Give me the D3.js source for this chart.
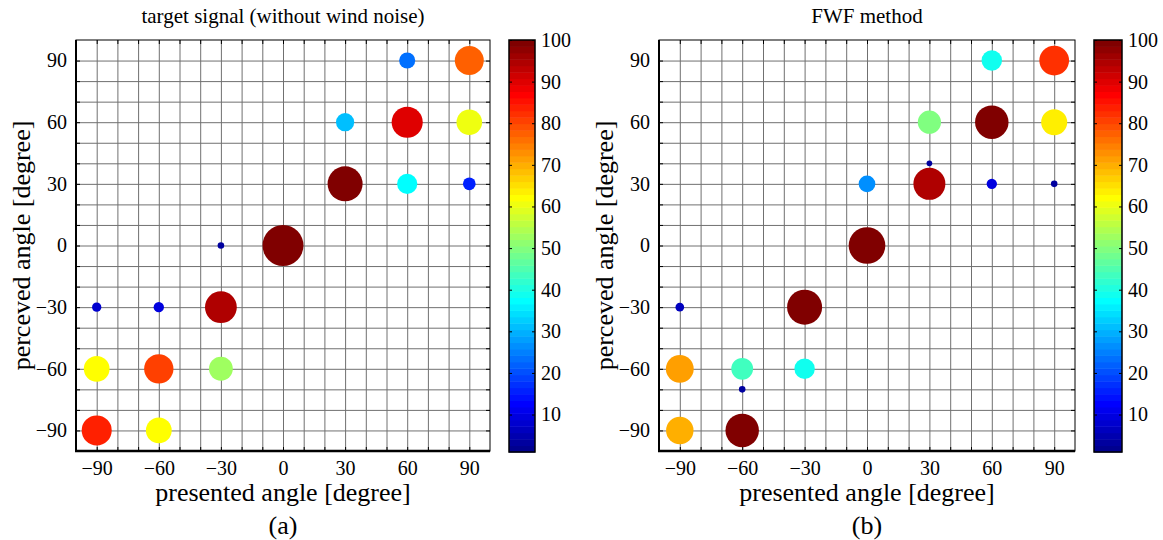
<!DOCTYPE html>
<html>
<head>
<meta charset="utf-8">
<script src="https://cdn.jsdelivr.net/npm/d3@7"></script>
<style>
  body { margin: 0; background: #fff; }
  svg text { font-family: "Liberation Serif", "Times New Roman", serif !important; fill: #000; }
  .grid line { stroke: #707070; stroke-width: 1; }
  .grid path { display: none; }
  .ax path { display: none; }
  .ax line { stroke: #000; }
</style>
</head>
<body>
<div id="chart"></div>
<script>
// angles (degree) and response values
const targetPresented = [90, 60, 30, 60, 90, 30, 60, 90, 0, -30, -90, -60, -30, -90, -60, -30, -90, -60];
const targetPerceived = [90, 90, 60, 60, 60, 30, 30, 30, 0, 0, -30, -30, -30, -60, -60, -60, -90, -90];
const targetValue     = [78, 24, 31, 90, 61, 114, 38, 15, 156, 4, 8, 10, 94, 62, 80, 53, 84, 62];

const fwfPresented = [90, 60, 30, 60, 90, 30, 0, 30, 60, 90, 0, -30, -90, -90, -60, -30, -60, -90, -60];
const fwfPerceived = [90, 90, 60, 60, 60, 40, 30, 30, 30, 30, 0, -30, -30, -60, -60, -60, -70, -90, -90];
const fwfValue     = [82, 39, 50, 104, 63, 3, 26, 95, 10, 4, 125, 114, 7, 72, 44, 39, 4, 70, 104];

const angleTicks = [-90, -60, -30, 0, 30, 60, 90];
const colorTicks = [10, 20, 30, 40, 50, 60, 70, 80, 90, 100];
const colorRange = [1, 100];

const serif = '"Liberation Serif", "Times New Roman", serif';

// config
const config = {
    width: 1163,
    height: 540,
    top: 40,
    innerHeight: 411,
    cbTop: 40,
    cbHeight: 412,
    tickFont: 20,
    labelFont: 26,
    titleFont: 21
};

const panels = [
    {title: "target signal (without wind noise)", tag: "(a)", left: 76, innerWidth: 414, cbX: 509, cbW: 26,
     xs: targetPresented, ys: targetPerceived, vs: targetValue},
    {title: "FWF method", tag: "(b)", left: 659, innerWidth: 416, cbX: 1094, cbW: 28,
     xs: fwfPresented, ys: fwfPerceived, vs: fwfValue}
];

// matlab jet(64)
function jetMap(m) {
    const n = Math.ceil(m / 4);
    const u = [];
    for (let i = 1; i <= n; i++) u.push(i / n);
    for (let i = 1; i < n; i++) u.push(1);
    for (let i = n; i >= 1; i--) u.push(i / n);
    const g0 = Math.ceil(n / 2) - (m % 4 === 1 ? 1 : 0);
    const J = d3.range(m).map(() => [0, 0, 0]);
    u.forEach((val, k) => {
        const g = g0 + k + 1, r = g + n, b = g - n;
        if (g >= 1 && g <= m) J[g - 1][1] = val;
        if (r >= 1 && r <= m) J[r - 1][0] = val;
        if (b >= 1 && b <= m) J[b - 1][2] = val;
    });
    return J.map(c => d3.rgb(c[0] * 255, c[1] * 255, c[2] * 255).formatHex());
}
const jet = jetMap(64);
function colorOf(v) {
    let idx = Math.floor((v - colorRange[0]) / (colorRange[1] - colorRange[0]) * jet.length);
    idx = Math.max(0, Math.min(jet.length - 1, idx));
    return jet[idx];
}

const size = d3.scaleSqrt().domain([0, 100]).range([0, 16.4]);

const svg = d3.select("#chart").append("svg")
    .attr("width", config.width)
    .attr("height", config.height);

function serifText(sel, fs) {
    sel.selectAll("text").attr("font-size", null).attr("font-family", null)
        .style("font-family", serif).style("font-size", fs + "px");
}

panels.forEach(p => {
    const x = d3.scaleLinear().domain([-100, 100]).range([0, p.innerWidth]);
    const y = d3.scaleLinear().domain([-100, 100]).range([config.innerHeight, 0]);
    const g = svg.append("g").attr("transform", `translate(${p.left},${config.top})`);
    const gridTicks = d3.range(-90, 91, 10);

    // grid
    g.append("g").attr("class", "grid")
        .attr("transform", `translate(0,${config.innerHeight})`)
        .call(d3.axisBottom(x).tickValues(gridTicks).tickSize(-config.innerHeight).tickFormat(""));
    g.append("g").attr("class", "grid")
        .call(d3.axisLeft(y).tickValues(gridTicks).tickSize(-p.innerWidth).tickFormat(""));

    // bubbles
    const pts = p.xs.map((d, i) => ({x: d, y: p.ys[i], v: p.vs[i]}));
    g.selectAll(".bubble").data(pts).enter()
        .append("circle")
        .attr("class", "bubble")
        .attr("cx", d => x(d.x))
        .attr("cy", d => y(d.y))
        .attr("r", d => size(d.v))
        .attr("fill", d => colorOf(d.v));

    // inner ticks on all sides
    const minor = (axis) => axis.tickValues(gridTicks).tickSize(-4).tickFormat("");
    g.append("g").attr("class", "ax").attr("transform", `translate(0,${config.innerHeight})`).call(minor(d3.axisBottom(x)));
    g.append("g").attr("class", "ax").call(minor(d3.axisTop(x)));
    g.append("g").attr("class", "ax").call(minor(d3.axisLeft(y)));
    g.append("g").attr("class", "ax").attr("transform", `translate(${p.innerWidth},0)`).call(minor(d3.axisRight(y)));

    // tick labels
    g.append("g").attr("class", "ax")
        .attr("transform", `translate(0,${config.innerHeight})`)
        .call(d3.axisBottom(x).tickValues(angleTicks).tickSize(0).tickPadding(10))
        .call(serifText, config.tickFont);
    g.append("g").attr("class", "ax")
        .call(d3.axisLeft(y).tickValues(angleTicks).tickSize(0).tickPadding(9))
        .call(serifText, config.tickFont);

    // box
    g.append("rect").attr("width", p.innerWidth).attr("height", config.innerHeight)
        .attr("fill", "none").attr("stroke", "#000").attr("stroke-width", 1);
    g.append("line").attr("x1", 0).attr("x2", 0).attr("y1", 0).attr("y2", config.innerHeight + 1)
        .attr("stroke", "#000").attr("stroke-width", 2);
    g.append("line").attr("x1", -1).attr("x2", p.innerWidth).attr("y1", config.innerHeight).attr("y2", config.innerHeight)
        .attr("stroke", "#000").attr("stroke-width", 2.5);

    // titles
    g.append("text").attr("x", p.innerWidth / 2).attr("y", -17)
        .attr("text-anchor", "middle").style("font-size", config.titleFont + "px").text(p.title);
    g.append("text").attr("x", p.innerWidth / 2).attr("y", 461)
        .attr("text-anchor", "middle").style("font-size", config.labelFont + "px").text("presented angle [degree]");
    g.append("text").attr("x", p.innerWidth / 2).attr("y", 494)
        .attr("text-anchor", "middle").style("font-size", config.labelFont + "px").text(p.tag);
    g.append("text")
        .attr("transform", `translate(-46,${config.innerHeight / 2}) rotate(-90)`)
        .attr("text-anchor", "middle").style("font-size", config.labelFont + "px").text("perceved angle [degree]");

    // colorbar
    const c = d3.scaleLinear().domain(colorRange).range([config.cbTop + config.cbHeight, config.cbTop]);
    const cb = svg.append("g").attr("transform", `translate(${p.cbX},0)`);
    const step = (colorRange[1] - colorRange[0]) / jet.length;
    cb.selectAll("rect.band").data(jet).enter().append("rect")
        .attr("class", "band")
        .attr("x", 0).attr("width", p.cbW)
        .attr("y", (d, i) => c(colorRange[0] + (i + 1) * step))
        .attr("height", (d, i) => c(colorRange[0] + i * step) - c(colorRange[0] + (i + 1) * step) + 0.5)
        .attr("fill", d => d);
    cb.append("g").attr("class", "ax")
        .attr("transform", `translate(${p.cbW},0)`)
        .call(d3.axisRight(c).tickValues(colorTicks).tickSize(-3).tickPadding(6))
        .call(serifText, config.tickFont);
    cb.append("g").attr("class", "ax")
        .call(d3.axisLeft(c).tickValues(colorTicks).tickSize(-3).tickFormat(""));
    cb.append("rect").attr("x", 0).attr("y", config.cbTop).attr("width", p.cbW).attr("height", config.cbHeight)
        .attr("fill", "none").attr("stroke", "#000").attr("stroke-width", 1.5);
});
</script>
</body>
</html>
